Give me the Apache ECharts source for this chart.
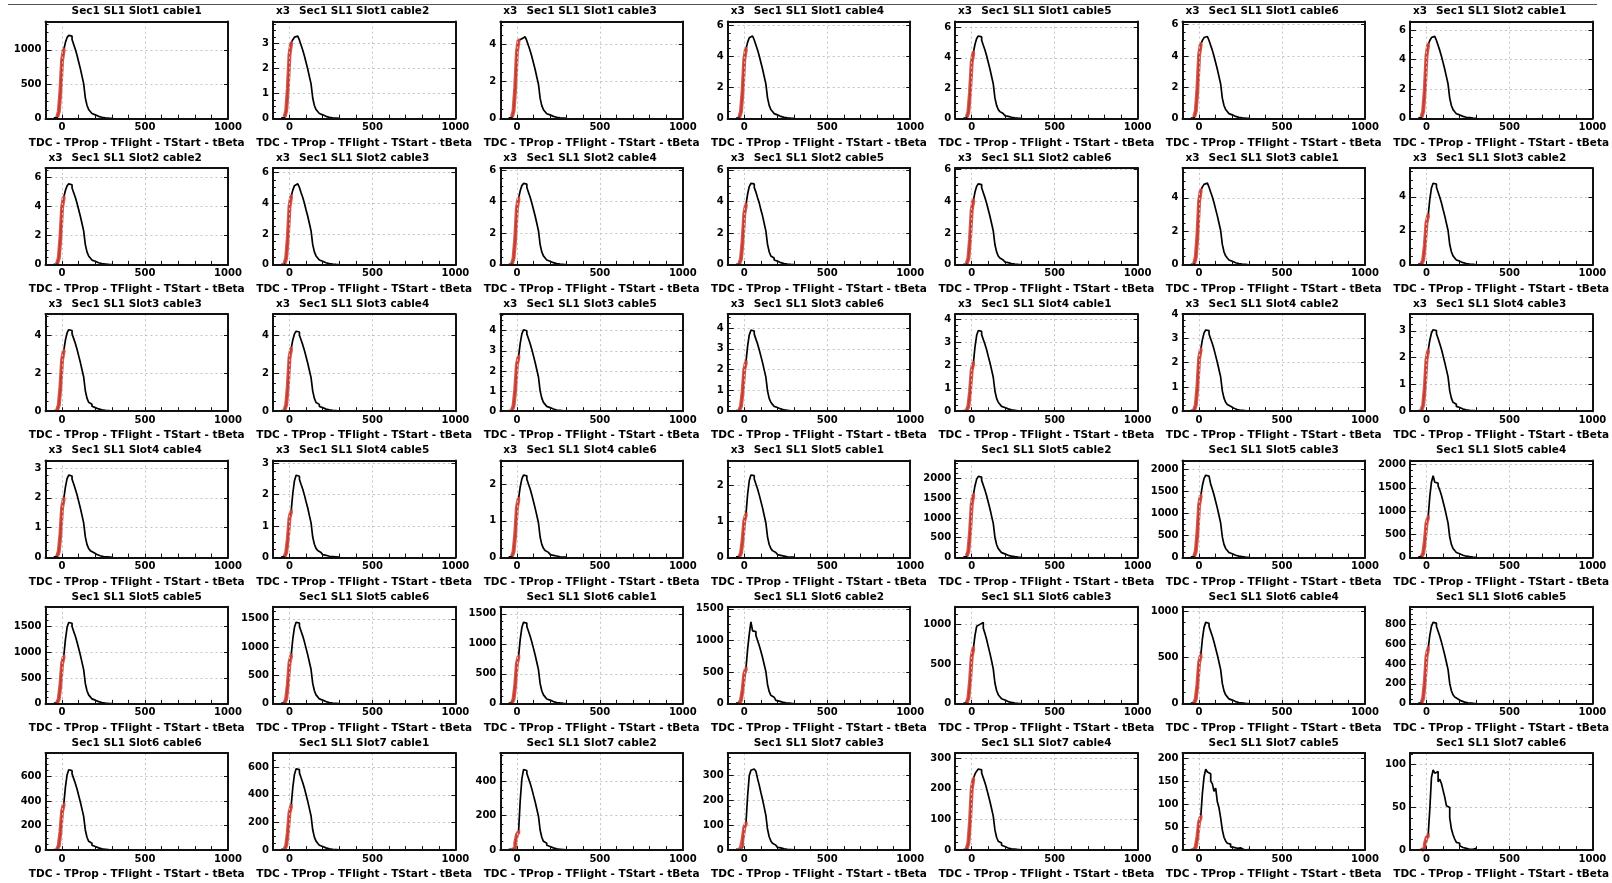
<!DOCTYPE html>
<html><head><meta charset="utf-8">
<script src="https://cdn.jsdelivr.net/npm/echarts@6/dist/echarts.min.js"></script>
<style>html,body{margin:0;padding:0;background:#fff}#c{width:1612px;height:883px}</style>
</head><body><div id="c"></div>
<script>
// ---------------- DATA ----------------
const panelTitles = [
  'Sec1 SL1 Slot1 cable1','Sec1 SL1 Slot1 cable2','Sec1 SL1 Slot1 cable3','Sec1 SL1 Slot1 cable4','Sec1 SL1 Slot1 cable5','Sec1 SL1 Slot1 cable6','Sec1 SL1 Slot2 cable1',
  'Sec1 SL1 Slot2 cable2','Sec1 SL1 Slot2 cable3','Sec1 SL1 Slot2 cable4','Sec1 SL1 Slot2 cable5','Sec1 SL1 Slot2 cable6','Sec1 SL1 Slot3 cable1','Sec1 SL1 Slot3 cable2',
  'Sec1 SL1 Slot3 cable3','Sec1 SL1 Slot3 cable4','Sec1 SL1 Slot3 cable5','Sec1 SL1 Slot3 cable6','Sec1 SL1 Slot4 cable1','Sec1 SL1 Slot4 cable2','Sec1 SL1 Slot4 cable3',
  'Sec1 SL1 Slot4 cable4','Sec1 SL1 Slot4 cable5','Sec1 SL1 Slot4 cable6','Sec1 SL1 Slot5 cable1','Sec1 SL1 Slot5 cable2','Sec1 SL1 Slot5 cable3','Sec1 SL1 Slot5 cable4',
  'Sec1 SL1 Slot5 cable5','Sec1 SL1 Slot5 cable6','Sec1 SL1 Slot6 cable1','Sec1 SL1 Slot6 cable2','Sec1 SL1 Slot6 cable3','Sec1 SL1 Slot6 cable4','Sec1 SL1 Slot6 cable5',
  'Sec1 SL1 Slot6 cable6','Sec1 SL1 Slot7 cable1','Sec1 SL1 Slot7 cable2','Sec1 SL1 Slot7 cable3','Sec1 SL1 Slot7 cable4','Sec1 SL1 Slot7 cable5','Sec1 SL1 Slot7 cable6'
];
const exponentLabels = [
  '','x3','x3','x3','x3','x3','x3',
  'x3','x3','x3','x3','x3','x3','x3',
  'x3','x3','x3','x3','x3','x3','x3',
  'x3','x3','x3','x3','','','',
  '','','','','','','',
  '','','','','','',''
];
const yMaxValues = [
  1410,3.86,5.22,6.22,6.38,6.2,6.57,
  6.64,6.28,6.13,6.13,6.1,5.78,5.7,
  5.12,5.12,4.82,4.67,4.23,4.0,3.62,
  3.25,3.08,2.65,2.68,2450,2206,2087,
  1888,1711,1616,1531,1221,1046,973,
  790,702,564,391,317,211,113.6
];
const yStepValues = [
  500,1,2,2,2,2,2,
  2,2,2,2,2,2,2,
  2,2,1,1,1,1,1,
  1,1,1,1,500,500,500,
  500,500,500,500,500,500,200,
  200,200,200,100,100,50,50
];
const xTickLabels = [0, 500, 1000];
const xAxisTitle = 'TDC - TProp - TFlight - TStart - tBeta';
const BLACK_FIRST_EDGE = -50, RED_FIRST_EDGE = -30, BIN_WIDTH = 10;

// black histograms: bins of 10 from -50 to 300
const s1c1_black = [10,12,18,100,400,850,1000,1105,1180,1210,1198,1150,1077,1004,920,823,726,617,508,302,194,133,103,73,54,42,33,25,19,15,12,10,7,5,4];
const s1c2_black = [0.03,0.03,0.05,0.30,1.20,2.55,3.00,3.14,3.24,3.28,3.25,3.12,2.92,2.72,2.49,2.23,1.97,1.67,1.38,0.82,0.52,0.36,0.28,0.20,0.15,0.11,0.09,0.07,0.05,0.04,0.03,0.03,0.02,0.01,0.01];
const s1c3_black = [0.04,0.04,0.07,0.42,1.68,3.57,4.20,4.30,4.37,4.40,4.36,4.18,3.92,3.65,3.34,2.99,2.64,2.24,1.85,1.10,0.70,0.48,0.37,0.26,0.20,0.15,0.12,0.09,0.07,0.05,0.04,0.04,0.03,0.02,0.01];
const s1c4_black = [0.04,0.05,0.08,0.45,1.79,3.80,4.47,4.89,5.18,5.30,5.25,5.04,4.72,4.40,4.03,3.60,3.18,2.70,2.23,1.33,0.85,0.58,0.45,0.32,0.24,0.19,0.14,0.11,0.08,0.06,0.05,0.04,0.03,0.02,0.02];
const s1c5_black = [0.04,0.05,0.08,0.43,1.74,3.69,4.34,4.89,5.27,5.43,5.38,5.16,4.83,4.51,4.13,3.69,3.26,2.77,2.28,1.36,0.87,0.60,0.46,0.33,0.24,0.19,0.15,0.11,0.09,0.07,0.05,0.04,0.03,0.02,0.02];
const s1c6_black = [0.04,0.05,0.08,0.48,1.90,4.04,4.75,5.00,5.18,5.25,5.20,4.99,4.67,4.36,3.99,3.57,3.15,2.68,2.21,1.31,0.84,0.58,0.45,0.32,0.24,0.18,0.14,0.11,0.08,0.06,0.05,0.04,0.03,0.02,0.02];
const s2c1_black = [0.04,0.06,0.08,0.50,2.00,4.25,5.00,5.29,5.49,5.57,5.51,5.29,4.96,4.62,4.23,3.79,3.34,2.84,2.34,1.39,0.89,0.61,0.47,0.33,0.25,0.19,0.15,0.12,0.09,0.07,0.06,0.04,0.03,0.02,0.02];
const s2c2_black = [0.04,0.06,0.08,0.46,1.85,3.93,4.62,5.09,5.41,5.55,5.49,5.27,4.94,4.61,4.22,3.77,3.33,2.83,2.33,1.39,0.89,0.61,0.47,0.33,0.25,0.19,0.15,0.12,0.09,0.07,0.06,0.04,0.03,0.02,0.02];
const s2c3_black = [0.04,0.05,0.08,0.44,1.77,3.77,4.43,4.84,5.13,5.25,5.20,5.01,4.67,4.36,3.99,3.55,3.15,2.68,2.20,1.31,0.84,0.58,0.45,0.32,0.24,0.18,0.14,0.11,0.08,0.06,0.05,0.04,0.03,0.02,0.02];
const s2c4_black = [0.04,0.05,0.08,0.42,1.68,3.57,4.20,4.68,5.01,5.15,5.10,4.89,4.58,4.27,3.91,3.50,3.09,2.63,2.16,1.29,0.82,0.57,0.44,0.31,0.23,0.18,0.14,0.11,0.08,0.06,0.05,0.04,0.03,0.02,0.02];
const s2c5_black = [0.04,0.05,0.08,0.38,1.52,3.23,3.80,4.48,4.95,5.15,5.12,4.90,4.60,4.25,3.92,3.48,3.10,2.62,2.15,1.30,0.83,0.56,0.44,0.31,0.24,0.18,0.14,0.10,0.08,0.06,0.05,0.04,0.03,0.02,0.02];
const s2c6_black = [0.04,0.05,0.08,0.41,1.62,3.44,4.05,4.58,4.94,5.10,5.05,4.85,4.54,4.23,3.88,3.47,3.06,2.60,2.14,1.28,0.82,0.56,0.43,0.31,0.23,0.18,0.14,0.11,0.08,0.06,0.05,0.04,0.03,0.02,0.02];
const s3c1_black = [0.04,0.05,0.07,0.44,1.77,3.77,4.43,4.65,4.80,4.87,4.82,4.63,4.33,4.04,3.70,3.31,2.92,2.48,2.05,1.22,0.78,0.54,0.41,0.29,0.22,0.17,0.13,0.10,0.08,0.06,0.05,0.04,0.03,0.02,0.01];
const s3c2_black = [0.04,0.05,0.07,0.29,1.16,2.47,2.90,3.85,4.52,4.80,4.75,4.56,4.27,3.98,3.65,3.26,2.88,2.45,2.02,1.20,0.77,0.53,0.41,0.29,0.22,0.17,0.13,0.10,0.08,0.06,0.05,0.04,0.03,0.02,0.01];
const s3c3_black = [0.03,0.04,0.06,0.32,1.28,2.71,3.19,3.75,4.13,4.30,4.26,4.09,3.83,3.57,3.27,2.92,2.58,2.19,1.81,1.08,0.69,0.47,0.37,0.26,0.19,0.15,0.12,0.09,0.07,0.05,0.04,0.03,0.03,0.02,0.01];
const s3c4_black = [0.03,0.04,0.06,0.33,1.32,2.81,3.30,3.76,4.08,4.22,4.18,4.01,3.76,3.50,3.21,2.87,2.53,2.15,1.77,1.06,0.68,0.46,0.36,0.25,0.19,0.15,0.11,0.09,0.07,0.05,0.04,0.03,0.03,0.02,0.01];
const s3c5_black = [0.03,0.04,0.06,0.27,1.08,2.30,2.70,3.37,3.84,4.04,4.00,3.84,3.60,3.35,3.07,2.75,2.42,2.06,1.70,1.01,0.65,0.44,0.34,0.24,0.18,0.14,0.11,0.08,0.06,0.05,0.04,0.03,0.02,0.02,0.01];
const s3c6_black = [0.03,0.04,0.06,0.24,0.94,2.01,2.36,3.13,3.67,3.90,3.86,3.71,3.47,3.24,2.96,2.65,2.34,1.99,1.64,0.98,0.62,0.43,0.33,0.23,0.18,0.14,0.11,0.08,0.06,0.05,0.04,0.03,0.02,0.02,0.01];
const s4c1_black = [0.03,0.04,0.05,0.21,0.84,1.79,2.10,2.81,3.31,3.52,3.48,3.34,3.13,2.92,2.68,2.39,2.11,1.80,1.48,0.88,0.56,0.39,0.30,0.21,0.16,0.12,0.10,0.07,0.06,0.04,0.04,0.03,0.02,0.01,0.01];
const s4c2_black = [0.03,0.03,0.05,0.25,1.02,2.16,2.54,2.95,3.23,3.35,3.32,3.18,2.98,2.78,2.55,2.28,2.01,1.71,1.41,0.84,0.54,0.37,0.28,0.20,0.15,0.12,0.09,0.07,0.05,0.04,0.03,0.03,0.02,0.01,0.01];
const s4c3_black = [0.02,0.03,0.05,0.23,0.90,1.92,2.26,2.65,2.92,3.04,3.01,2.89,2.71,2.52,2.31,2.07,1.82,1.55,1.28,0.76,0.49,0.33,0.26,0.18,0.14,0.11,0.08,0.06,0.05,0.04,0.03,0.02,0.02,0.01,0.01];
const s4c4_black = [0.02,0.03,0.04,0.20,0.78,1.67,1.96,2.36,2.64,2.76,2.73,2.62,2.46,2.29,2.10,1.88,1.66,1.41,1.16,0.69,0.44,0.30,0.23,0.17,0.12,0.10,0.07,0.06,0.04,0.03,0.03,0.02,0.02,0.01,0.01];
const s4c5_black = [0.02,0.03,0.04,0.15,0.59,1.25,1.47,2.04,2.44,2.61,2.58,2.48,2.32,2.17,1.98,1.77,1.57,1.33,1.10,0.65,0.42,0.29,0.22,0.16,0.12,0.09,0.07,0.05,0.04,0.03,0.03,0.02,0.02,0.01,0.01];
const s4c6_black = [0.02,0.02,0.03,0.16,0.64,1.36,1.60,1.93,2.15,2.25,2.23,2.14,2.00,1.87,1.71,1.53,1.35,1.15,0.95,0.56,0.36,0.25,0.19,0.14,0.10,0.08,0.06,0.05,0.04,0.03,0.02,0.02,0.01,0.01,0.01];
const s5c1_black = [0.02,0.02,0.03,0.12,0.48,1.01,1.19,1.74,2.12,2.28,2.26,2.17,2.03,1.89,1.73,1.55,1.37,1.16,0.96,0.57,0.36,0.25,0.19,0.14,0.10,0.08,0.06,0.05,0.04,0.03,0.02,0.02,0.01,0.01,0.01];
const s5c2_black = [16,20,31,158,631,1340,1577,1814,1979,2050,2030,1948,1825,1702,1558,1394,1230,1046,861,513,328,226,174,123,92,72,55,43,33,25,21,16,12,8,6];
const s5c3_black = [15,19,28,140,562,1193,1404,1637,1800,1870,1851,1860,1664,1552,1421,1272,1122,954,785,468,299,206,159,112,84,65,50,39,30,22,19,15,11,7,6];
const s5c4_black = [14,18,26,87,347,737,867,1314,1626,1760,1620,1600,1540,1450,1340,1200,1060,900,740,440,282,194,150,106,79,62,48,37,28,21,18,14,11,7,5];
const s5c5_black = [13,16,24,92,367,779,917,1250,1483,1583,1567,1504,1409,1314,1203,1076,950,807,665,396,253,174,135,95,71,55,42,33,25,19,16,13,9,6,5];
const s5c6_black = [12,14,22,85,340,723,850,1144,1350,1438,1424,1366,1280,1194,1093,978,863,733,604,360,230,158,122,86,65,50,39,30,23,17,14,12,9,6,4];
const s6c1_black = [11,14,20,79,314,668,786,1072,1271,1357,1343,1289,1208,1126,1031,923,814,692,570,339,217,149,115,81,61,47,37,28,22,16,14,11,8,5,4];
const s6c2_black = [10,13,19,56,222,472,555,860,1100,1294,1150,1140,1080,1000,920,830,730,620,510,305,195,134,104,73,55,43,33,26,20,15,12,10,7,5,4];
const s6c3_black = [8,10,15,70,280,594,699,862,975,1000,1010,1025,950,885,810,720,635,540,440,262,168,115,89,63,47,36,28,22,17,13,10,8,6,4,3];
const s6c4_black = [7,9,13,52,208,442,520,699,824,878,869,834,781,729,667,597,527,448,369,220,140,97,75,53,40,31,24,18,14,11,9,7,5,4,3];
const s6c5_black = [7,8,12,56,223,473,557,687,778,817,809,776,727,678,621,556,490,417,343,204,131,90,69,49,37,29,22,17,13,10,8,7,5,3,2];
const s6c6_black = [5,7,10,37,148,315,371,513,612,654,647,621,582,543,497,445,392,334,275,164,105,72,56,39,29,23,18,14,10,8,7,5,4,3,2];
const s7c1_black = [5,6,9,32,128,271,319,454,548,588,582,559,523,488,447,400,353,300,247,147,94,65,50,35,26,21,16,12,9,7,6,5,4,2,2];
const s7c2_black = [4,5,7,11,42,89,105,287,414,468,463,445,417,388,356,318,281,239,197,117,75,51,40,28,21,16,13,10,7,6,5,4,3,2,1];
const s7c3_black = [3,3,5,11,43,91,107,217,300,322,327,324,318,288,262,232,204,172,140,84,54,37,28,20,15,11,9,7,5,4,3,3,2,1,1];
const s7c4_black = [2,3,4,23,93,198,233,249,258,265,262,252,236,220,201,180,159,135,111,66,42,29,23,16,12,9,7,6,4,3,3,2,2,1,1];
const s7c5_black = [1,2,3,7,29,61,72,124,160,176,170,166,150,144,128,135,105,92,70,44,28,20,15,13,7,6,10,4,3,5,2,1,2,0,2];
const s7c6_black = [0,1,1,2,7,14,17,48,85,94,90,92,80,83,78,70,62,52,50,38,25,18,13,9,8,5,3,4,2,3,1,2,1,1,2];

// red histograms: bins of 10 from -30 to 20
const s1c1_red = [20,100,400,850,1000];
const s1c2_red = [0.06,0.30,1.20,2.55,3.00];
const s1c3_red = [0.08,0.42,1.68,3.57,4.20];
const s1c4_red = [0.09,0.45,1.79,3.80,4.47];
const s1c5_red = [0.09,0.43,1.74,3.69,4.34];
const s1c6_red = [0.10,0.48,1.90,4.04,4.75];
const s2c1_red = [0.10,0.50,2.00,4.25,5.00];
const s2c2_red = [0.09,0.46,1.85,3.93,4.62];
const s2c3_red = [0.09,0.44,1.77,3.77,4.43];
const s2c4_red = [0.08,0.42,1.68,3.57,4.20];
const s2c5_red = [0.08,0.38,1.52,3.23,3.80];
const s2c6_red = [0.08,0.41,1.62,3.44,4.05];
const s3c1_red = [0.09,0.44,1.77,3.77,4.43];
const s3c2_red = [0.06,0.29,1.16,2.47,2.90];
const s3c3_red = [0.06,0.32,1.28,2.71,3.19];
const s3c4_red = [0.07,0.33,1.32,2.81,3.30];
const s3c5_red = [0.05,0.27,1.08,2.30,2.70];
const s3c6_red = [0.05,0.24,0.94,2.01,2.36];
const s4c1_red = [0.04,0.21,0.84,1.79,2.10];
const s4c2_red = [0.05,0.25,1.02,2.16,2.54];
const s4c3_red = [0.05,0.23,0.90,1.92,2.26];
const s4c4_red = [0.04,0.20,0.78,1.67,1.96];
const s4c5_red = [0.03,0.15,0.59,1.25,1.47];
const s4c6_red = [0.03,0.16,0.64,1.36,1.60];
const s5c1_red = [0.02,0.12,0.48,1.01,1.19];
const s5c2_red = [32,158,631,1340,1577];
const s5c3_red = [28,140,562,1193,1404];
const s5c4_red = [17,87,347,737,867];
const s5c5_red = [18,92,367,779,917];
const s5c6_red = [17,85,340,723,850];
const s6c1_red = [16,79,314,668,786];
const s6c2_red = [11,56,222,472,555];
const s6c3_red = [14,70,280,594,699];
const s6c4_red = [10,52,208,442,520];
const s6c5_red = [11,56,223,473,557];
const s6c6_red = [7,37,148,315,371];
const s7c1_red = [6,32,128,271,319];
const s7c2_red = [2,11,42,89,105];
const s7c3_red = [2,11,43,91,107];
const s7c4_red = [5,23,93,198,233];
const s7c5_red = [1,7,29,61,72];
const s7c6_red = [0,2,7,14,17];

const blackHists = [
  s1c1_black,s1c2_black,s1c3_black,s1c4_black,s1c5_black,s1c6_black,s2c1_black,
  s2c2_black,s2c3_black,s2c4_black,s2c5_black,s2c6_black,s3c1_black,s3c2_black,
  s3c3_black,s3c4_black,s3c5_black,s3c6_black,s4c1_black,s4c2_black,s4c3_black,
  s4c4_black,s4c5_black,s4c6_black,s5c1_black,s5c2_black,s5c3_black,s5c4_black,
  s5c5_black,s5c6_black,s6c1_black,s6c2_black,s6c3_black,s6c4_black,s6c5_black,
  s6c6_black,s7c1_black,s7c2_black,s7c3_black,s7c4_black,s7c5_black,s7c6_black
];
const redHists = [
  s1c1_red,s1c2_red,s1c3_red,s1c4_red,s1c5_red,s1c6_red,s2c1_red,
  s2c2_red,s2c3_red,s2c4_red,s2c5_red,s2c6_red,s3c1_red,s3c2_red,
  s3c3_red,s3c4_red,s3c5_red,s3c6_red,s4c1_red,s4c2_red,s4c3_red,
  s4c4_red,s4c5_red,s4c6_red,s5c1_red,s5c2_red,s5c3_red,s5c4_red,
  s5c5_red,s5c6_red,s6c1_red,s6c2_red,s6c3_red,s6c4_red,s6c5_red,
  s6c6_red,s7c1_red,s7c2_red,s7c3_red,s7c4_red,s7c5_red,s7c6_red
];

// ---------------- LAYOUT / STYLE ----------------
const COLS = 7;
const GRID_LEFT0 = 45.5, COL_STEP = 227.4, GRID_W = 182.5;
const GRID_TOP0 = 21.6, ROW_STEP = 146.3, GRID_H = 97;
const FONT = 'DejaVu Sans';
const FRAME = '#111';

function histPoints(vals, firstEdge) {
  const pts = vals.map((v, i) => [firstEdge + i * BIN_WIDTH, v]);
  pts.push([firstEdge + vals.length * BIN_WIDTH, vals[vals.length - 1]]);
  return pts;
}
function isMultiple(v, step) {
  const q = v / step;
  return Math.abs(q - Math.round(q)) < 1e-6;
}

const grids = [], xAxes = [], yAxes = [], series = [], titles = [];
panelTitles.forEach((t, i) => {
  const r = Math.floor(i / COLS), c = i % COLS;
  const left = GRID_LEFT0 + c * COL_STEP;
  const top = GRID_TOP0 + r * ROW_STEP;
  grids.push({left: left, top: top, width: GRID_W, height: GRID_H, show: false, containLabel: false});
  // bottom x axis (index 2i)
  xAxes.push({
    gridIndex: i, type: 'value', position: 'bottom', min: -100, max: 1000, interval: 100, z: 10,
    axisLine: {show: true, onZero: false, lineStyle: {color: FRAME, width: 2}},
    axisTick: {show: true, inside: true, length: 4, lineStyle: {color: FRAME, width: 1}},
    axisLabel: {margin: 4, color: '#000', fontFamily: FONT, fontWeight: 'bold', fontSize: 10,
      formatter: v => (xTickLabels.indexOf(v) >= 0 ? String(v) : '')},
    splitLine: {show: false},
    name: xAxisTitle, nameLocation: 'middle', nameGap: 19,
    nameTextStyle: {color: '#000', fontFamily: FONT, fontWeight: 'bold', fontSize: 10.5}
  });
  // top frame axis (index 2i+1)
  xAxes.push({
    gridIndex: i, type: 'value', position: 'top', min: -100, max: 1000, interval: 100, z: 10,
    axisLine: {show: true, onZero: false, lineStyle: {color: FRAME, width: 2}},
    axisTick: {show: false}, axisLabel: {show: false}, splitLine: {show: false}
  });
  const step = yStepValues[i], ymax = yMaxValues[i];
  yAxes.push({
    gridIndex: i, type: 'value', position: 'left', min: 0, max: ymax, interval: step,
    axisLine: {show: false, onZero: false},
    axisTick: {show: true, inside: true, length: 6, lineStyle: {color: FRAME, width: 1}},
    minorTick: {show: true, splitNumber: 4, length: 3, lineStyle: {color: FRAME, width: 1}},
    axisLabel: {margin: 4, color: '#000', fontFamily: FONT, fontWeight: 'bold', fontSize: 10,
      formatter: v => (isMultiple(v, step) ? String(Math.round(v)) : '')},
    splitLine: {show: true, lineStyle: {type: [2, 3], color: '#c4c4c4', width: 1}}
  });
  yAxes.push({
    gridIndex: i, type: 'value', position: 'right', min: 0, max: ymax, interval: step, z: 10,
    axisLine: {show: true, onZero: false, lineStyle: {color: FRAME, width: 2}},
    axisTick: {show: true, inside: true, length: 4, lineStyle: {color: FRAME, width: 1}},
    axisLabel: {show: false}, splitLine: {show: false}
  });
  series.push({
    type: 'line', xAxisIndex: 2 * i, yAxisIndex: 2 * i, step: 'end', showSymbol: false, symbol: 'none',
    data: histPoints(blackHists[i], BLACK_FIRST_EDGE),
    lineStyle: {color: '#000', width: 1.7}, z: 3,
    markLine: {silent: true, symbol: 'none', label: {show: false}, animation: false,
      lineStyle: {type: [2, 3], color: '#c4c4c4', width: 1},
      data: [{xAxis: xTickLabels[0]}, {xAxis: xTickLabels[1]}]}
  });
  series.push({
    type: 'line', xAxisIndex: 2 * i, yAxisIndex: 2 * i, step: 'end', showSymbol: false, symbol: 'none',
    data: histPoints(redHists[i], RED_FIRST_EDGE),
    lineStyle: {color: 'rgba(214,68,54,0.9)', width: 4, cap: 'butt'}, z: 4
  });
  titles.push({text: t, left: left + GRID_W / 2, top: top - 15.5, textAlign: 'center', padding: 0,
    textStyle: {color: '#000', fontFamily: FONT, fontWeight: 'bold', fontSize: 10.5}});
  if (exponentLabels[i]) {
    titles.push({text: exponentLabels[i], left: left + 3, top: top - 15.5, textAlign: 'left', padding: 0,
      textStyle: {color: '#000', fontFamily: FONT, fontWeight: 'bold', fontSize: 10.5}});
  }
});

// left frame line drawn as an extra graphic-free approach: a left y axis line on top
panelTitles.forEach((t, i) => {
  yAxes.push({
    gridIndex: i, type: 'value', position: 'left', min: 0, max: yMaxValues[i], z: 10,
    axisLine: {show: true, onZero: false, lineStyle: {color: FRAME, width: 2}},
    axisTick: {show: false}, axisLabel: {show: false}, splitLine: {show: false}
  });
});

const chart = echarts.init(document.getElementById('c'), null, {renderer: 'canvas'});
chart.setOption({
  animation: false,
  backgroundColor: '#fff',
  title: titles,
  grid: grids,
  xAxis: xAxes,
  yAxis: yAxes,
  series: series,
  graphic: [{type: 'line', shape: {x1: 8, y1: 4.5, x2: 1597, y2: 4.5}, style: {stroke: '#555', lineWidth: 1}}]
});
</script>
</body></html>
